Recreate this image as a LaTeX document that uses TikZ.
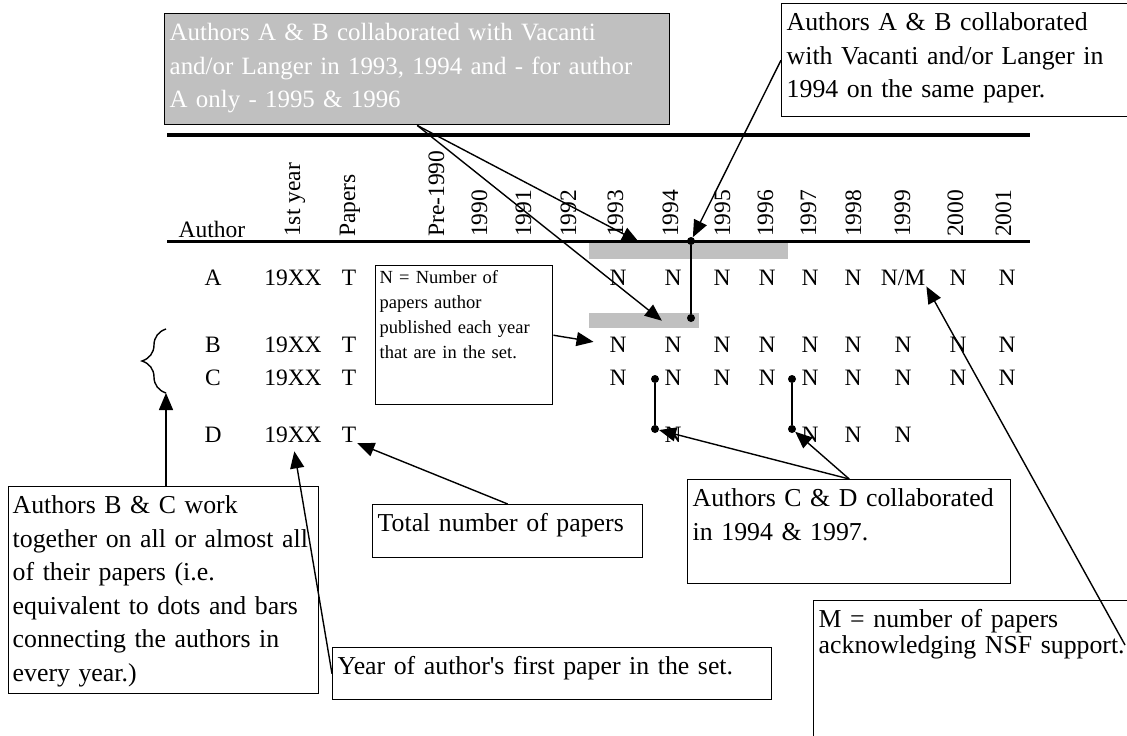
\documentclass[tikz,border=0pt]{standalone}
\usepackage{fontspec}
\setmainfont{Liberation Serif}
\usetikzlibrary{arrows.meta,calc,decorations.pathreplacing}
\definecolor{bandgray}{RGB}{192,192,192}

\begin{document}
\begin{tikzpicture}[
  x=1pt,
  y=-1pt,
  note/.style={draw, line width=1.4pt, anchor=north west, align=left, inner xsep=5pt, inner ysep=3pt, text height=24pt, font=\fontsize{25.8}{33.5}\selectfont},
  small/.style={inner xsep=4pt, text height=15pt, font=\fontsize{18.5}{25}\selectfont},
  cell/.style={anchor=base, inner sep=1pt, font=\fontsize{23.5}{28}\selectfont},
  yearlbl/.style={rotate=90, anchor=west, inner sep=0pt, text height=16pt, text depth=0pt, font=\fontsize{23.5}{28}\selectfont},
  band/.style={fill=bandgray, anchor=north west, inner sep=0pt},
  joint/.style={circle, fill, inner sep=0pt, minimum size=8pt},
  link/.style={line width=1.6pt},
  arr/.style={-{Triangle[length=17pt,width=14pt]}, line width=1.4pt},
  rule/.style={line width=#1}
]

\path[use as bounding box, fill=white] (0,0) rectangle (1127,736);

% Shaded bands behind the joint years
\node[band, minimum width=199pt, minimum height=17pt] (bandA) at (589,242) {};
\node[band, minimum width=110pt, minimum height=15pt] (bandB) at (589,313) {};

% Table rules
\draw[rule=4pt] (167,135) -- (1030,135);
\draw[rule=3pt] (167,241) -- (1030,241);

% Header
\node[cell] (hAuthor) at (212,237) {Author};
\node[yearlbl] (hFirst)  at (292,237) {1st year};
\node[yearlbl] (hPapers) at (347,237) {Papers};
\node[yearlbl] (hPre)    at (436,237) {Pre-1990};
\foreach \yr/\xx in {1990/479, 1991/523, 1992/568, 1993/615, 1994/670, 1995/722, 1996/765, 1997/808, 1998/853, 1999/902, 2000/955, 2001/1003}
  \node[yearlbl] (h\yr) at (\xx,237) {\yr};

% Rows: author, first year, papers
\foreach \row/\yy in {A/285, B/352, C/385, D/442} {
  \node[cell] (\row-name)   at (213,\yy) {\row};
  \node[cell] (\row-first)  at (293,\yy) {19XX};
  \node[cell] (\row-papers) at (349,\yy) {T};
}

% Papers per year
\foreach \yr/\xx in {1993/618, 1994/673, 1995/722, 1996/767, 1997/810, 1998/853, 2000/958, 2001/1007}
  \node[cell] (A-\yr) at (\xx,285) {N};
\node[cell] (A-1999) at (903,285) {N/M};
\foreach \yr/\xx in {1993/618, 1994/673, 1995/722, 1996/767, 1997/810, 1998/853, 1999/903, 2000/958, 2001/1007} {
  \node[cell] (B-\yr) at (\xx,352) {N};
  \node[cell] (C-\yr) at (\xx,385) {N};
}
\foreach \yr/\xx in {1994/673, 1997/810, 1998/853, 1999/903}
  \node[cell] (D-\yr) at (\xx,442) {N};

% Joint papers: dots and bars
\node[joint] (jA94) at (691,241) {};
\node[joint] (jB94) at (691,318) {};
\node[joint] (jC94) at (655,379) {};
\node[joint] (jD94) at (655,429) {};
\node[joint] (jC97) at (792,379) {};
\node[joint] (jD97) at (792,429) {};
\draw[link] (jA94) -- (jB94);
\draw[link] (jC94) -- (jD94);
\draw[link] (jC97) -- (jD97);

% Brace for authors B and C
\coordinate (braceTop) at (166,329);
\coordinate (braceBot) at (166,393);
\draw[line width=1.4pt, decorate, decoration={brace, amplitude=24pt}] (braceBot) -- (braceTop);

% Notes
\node[note, fill=bandgray, text=white, font=\fontsize{24.9}{33.5}\selectfont, text width=495pt, text depth=81pt] (vacBox) at (164,13) {Authors A \& B collaborated with Vacanti\\and/or Langer in 1993, 1994 and - for author\\A only - 1995 \& 1996};
\node[note, text width=360pt, text depth=83pt] (samePaper) at (781,3) {Authors A \& B collaborated\\with Vacanti and/or Langer in\\1994 on the same paper.};
\node[note, small, text width=169pt, text depth=118pt] (nBox) at (375,265) {N = Number of\\papers author\\published each year\\that are in the set.};
\node[note, inner xsep=4pt, text width=302pt, text depth=177pt] (bcBox) at (8,486) {Authors B \& C work\\together on all or almost all\\of their papers (i.e.\\equivalent to dots and bars\\connecting the authors in\\every year.)};
\node[note, text width=260pt, text depth=23pt] (totBox) at (372,504) {Total number of papers};
\node[note, text width=429pt, text depth=22pt] (yearBox) at (332,647) {Year of author\textquotesingle s first paper in the set.};
\node[note, text width=313pt, text depth=74pt] (cdBox) at (687,479) {Authors C \& D collaborated\\in 1994 \& 1997.};
\node[note, font=\fontsize{25.8}{26}\selectfont, text width=320pt, text depth=130pt] (nsfBox) at (813,600) {M = number of papers\\acknowledging NSF support.};
\coordinate (nsfTail) at (1125,645);

% Pointers
\draw[arr] (vacBox.south) -- ($(bandA.north west)!0.25!(bandA.north east)$);
\draw[arr] (vacBox.south) -- ($(bandB.west)!0.66!(bandB.east)$);
\draw[arr] (samePaper.west) -- (jA94);
\draw[arr, shorten >=15pt] (nBox.east) -- (B-1993.west);
\draw[arr] (bcBox.north -| braceBot) -- (braceBot);
\draw[arr, shorten >=8pt] (yearBox.west) -- (D-first.south);
\draw[arr] (totBox.north) -- (D-papers.south east);
\draw[arr] (cdBox.north) -- (jD94);
\draw[arr] (cdBox.north) -- (jD97);
\draw[arr] (nsfTail) -- (A-1999.south east);

\end{tikzpicture}
\end{document}
